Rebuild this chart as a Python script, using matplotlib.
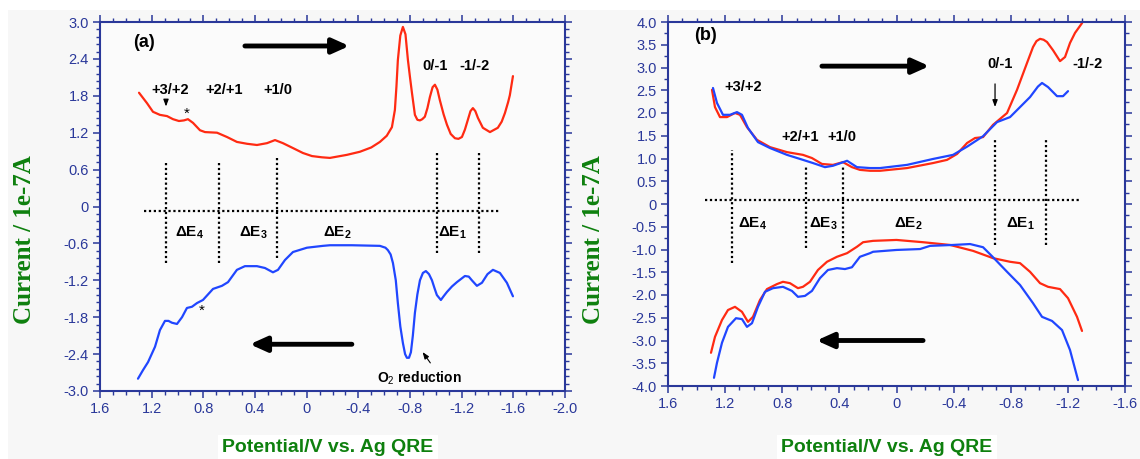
import numpy as np
import matplotlib
matplotlib.use("Agg")
import matplotlib.pyplot as plt
from matplotlib.ticker import MultipleLocator, FuncFormatter
from matplotlib.patches import Rectangle

plt.rcParams['font.family'] = ['Liberation Sans', 'DejaVu Sans']
plt.rcParams['mathtext.fontset'] = 'custom'
plt.rcParams['mathtext.bf'] = 'Liberation Sans:bold'
plt.rcParams['mathtext.rm'] = 'Liberation Sans'

# ---- panel (a): forward (red) and reverse (blue) scans
a_fwd_x = [1.298, 1.236, 1.19, 1.136, 1.081, 1.035, 0.989, 0.95, 0.919, 0.88, 0.826, 0.787, 0.694,
           0.617, 0.54, 0.462, 0.385, 0.307, 0.245, 0.184, 0.106, 0.029, -0.041, -0.118, -0.18,
           -0.312, -0.412, -0.5, -0.567, -0.62, -0.66, -0.683, -0.695, -0.706, -0.725, -0.745,
           -0.765, -0.784, -0.80, -0.815, -0.838, -0.857,
           -0.877, -0.895, -0.915, -0.935, -0.954, -0.975, -0.993, -1.012, -1.031, -1.06, -1.086,
           -1.115, -1.148, -1.175, -1.202, -1.225, -1.248, -1.268, -1.287, -1.306, -1.326,
           -1.364, -1.419, -1.48, -1.51, -1.535, -1.56, -1.573, -1.597]
a_fwd_y = [1.85, 1.68, 1.54, 1.49, 1.47, 1.42, 1.39, 1.40, 1.42, 1.36, 1.24, 1.21, 1.20,
           1.13, 1.05, 1.02, 1.00, 1.03, 1.08, 1.03, 0.95, 0.87, 0.82, 0.80, 0.79,
           0.84, 0.89, 0.96, 1.05, 1.15, 1.29, 1.57, 1.95, 2.38, 2.78, 2.92,
           2.80, 2.38, 2.10, 1.85, 1.49, 1.41,
           1.40, 1.42, 1.46, 1.60, 1.78, 1.94, 1.98, 1.90, 1.73, 1.50, 1.33,
           1.18, 1.11, 1.10, 1.13, 1.25, 1.41, 1.55, 1.60, 1.55, 1.44,
           1.28, 1.21, 1.28, 1.38, 1.52, 1.70, 1.81, 2.12]
a_rev_x = [1.306, 1.267, 1.228, 1.174, 1.136, 1.097, 1.07, 1.043, 1.004, 0.965, 0.927, 0.888, 0.849,
           0.803, 0.725, 0.656, 0.609, 0.54, 0.478, 0.385, 0.323, 0.261, 0.222, 0.168, 0.106,
           -0.002, -0.126, -0.18, -0.35, -0.567, -0.61, -0.629, -0.65, -0.668, -0.69, -0.706,
           -0.725, -0.745, -0.762, -0.776, -0.792, -0.807, -0.822,
           -0.838, -0.857, -0.877, -0.9, -0.923, -0.947, -0.97, -0.99, -1.008, -1.039, -1.06, -1.086,
           -1.125, -1.163, -1.225, -1.255, -1.279, -1.318, -1.357, -1.40, -1.442, -1.496, -1.55, -1.597]
a_rev_y = [-2.80, -2.66, -2.53, -2.28, -2.01, -1.86, -1.86, -1.89, -1.91, -1.80, -1.65, -1.63, -1.57,
           -1.52, -1.34, -1.29, -1.23, -1.03, -0.97, -0.97, -1.00, -1.07, -1.03, -0.87, -0.74,
           -0.67, -0.64, -0.63, -0.63, -0.64, -0.67, -0.71, -0.78, -0.92, -1.20, -1.57,
           -1.95, -2.22, -2.40, -2.46, -2.46, -2.37, -2.10,
           -1.73, -1.43, -1.20, -1.08, -1.05, -1.10, -1.20, -1.33, -1.44, -1.52, -1.46, -1.39,
           -1.30, -1.23, -1.13, -1.14, -1.20, -1.29, -1.24, -1.10, -1.03, -1.08, -1.24, -1.46]

# ---- panel (b): two runs, forward (upper) and reverse (lower)
b_red_fwd_x = [1.292, 1.271, 1.236, 1.187, 1.131, 1.096, 1.047, 0.977, 0.886, 0.767, 0.655, 0.592,
               0.522, 0.445, 0.375, 0.312, 0.256, 0.185, 0.115, -0.074, -0.256, -0.354, -0.424,
               -0.494, -0.55, -0.606, -0.676, -0.774, -0.844, -0.914, -0.956, -0.98, -1.005, -1.03,
               -1.054, -1.096, -1.145, -1.18, -1.215, -1.25, -1.3]
b_red_fwd_y = [2.51, 2.13, 1.91, 1.91, 2.0, 1.96, 1.69, 1.41, 1.25, 1.14, 1.08, 1.01,
               0.88, 0.86, 0.92, 0.81, 0.75, 0.73, 0.73, 0.79, 0.90, 0.97, 1.10,
               1.34, 1.45, 1.47, 1.74, 2.0, 2.51, 3.10, 3.45, 3.58, 3.63, 3.61,
               3.56, 3.38, 3.14, 3.23, 3.54, 3.76, 3.98]
b_blue_fwd_x = [1.285, 1.257, 1.215, 1.166, 1.117, 1.082, 1.04, 0.97, 0.886, 0.767, 0.655, 0.585,
                0.501, 0.445, 0.346, 0.277, 0.185, 0.115, -0.074, -0.256, -0.396, -0.494, -0.606,
                -0.704, -0.795, -0.865, -0.935, -0.99, -1.019, -1.061, -1.124, -1.166, -1.201]
b_blue_fwd_y = [2.55, 2.22, 1.96, 1.96, 2.02, 1.96, 1.67, 1.36, 1.23, 1.08, 0.97, 0.90,
                0.81, 0.84, 0.95, 0.81, 0.79, 0.79, 0.86, 0.99, 1.08, 1.26, 1.49,
                1.80, 1.91, 2.13, 2.35, 2.58, 2.66, 2.57, 2.37, 2.37, 2.48]
b_red_rev_x = [1.299, 1.271, 1.222, 1.18, 1.131, 1.082, 1.04, 1.005, 0.956, 0.907, 0.837, 0.795,
               0.746, 0.69, 0.655, 0.606, 0.55, 0.487, 0.417, 0.346, 0.277, 0.234, 0.164, 0.0,
               -0.186, -0.375, -0.536, -0.676, -0.795, -0.865, -0.935, -1.005, -1.061, -1.145,
               -1.201, -1.264, -1.299]
b_red_rev_y = [-3.27, -2.92, -2.55, -2.33, -2.26, -2.37, -2.59, -2.48, -2.11, -1.87, -1.76, -1.71,
               -1.74, -1.85, -1.82, -1.71, -1.45, -1.27, -1.16, -1.08, -0.94, -0.84, -0.81, -0.79,
               -0.84, -0.90, -1.03, -1.19, -1.27, -1.30, -1.49, -1.74, -1.82, -1.87,
               -2.07, -2.48, -2.79]
b_blue_rev_x = [1.278, 1.257, 1.222, 1.18, 1.124, 1.082, 1.047, 1.012, 0.97, 0.921, 0.865, 0.795,
                0.732, 0.69, 0.641, 0.592, 0.536, 0.48, 0.417, 0.361, 0.312, 0.256, 0.185, 0.164,
                0.0, -0.165, -0.235, -0.396, -0.515, -0.606, -0.676, -0.774, -0.865, -0.956,
                -1.019, -1.089, -1.159, -1.215, -1.271]
b_blue_rev_y = [-3.82, -3.49, -3.05, -2.70, -2.51, -2.53, -2.70, -2.62, -2.26, -1.93, -1.85, -1.82,
                -1.91, -2.04, -2.02, -1.91, -1.63, -1.45, -1.41, -1.43, -1.39, -1.16, -1.08, -1.05,
                -1.01, -0.99, -0.92, -0.90, -0.88, -0.95, -1.17, -1.49, -1.78, -2.18,
                -2.48, -2.57, -2.77, -3.21, -3.87]

# dotted boundaries: (x, y_bottom, y_top)
a_vlines = [(1.089, -0.92, 0.71), (0.679, -0.92, 0.71), (0.23, -0.84, 0.79),
            (-1.008, -0.76, 0.87), (-1.333, -0.76, 0.87)]
a_hline = (-0.07, 1.26, -1.496)
b_vlines = [(1.152, -1.30, 1.19), (0.634, -0.97, 0.81), (0.375, -0.97, 0.81),
            (-0.69, -0.90, 1.45), (-1.047, -0.90, 1.45)]
b_hline = (0.08, 1.34, -1.285)

a_couples = [("+3/+2", 1.06, 1.90), ("+2/+1", 0.64, 1.90), ("+1/0", 0.22, 1.90),
             ("0/-1", -0.993, 2.28), ("-1/-2", -1.30, 2.28)]
b_couples = [("+3/+2", 1.075, 2.57), ("+2/+1", 0.675, 1.47), ("+1/0", 0.382, 1.47),
             ("0/-1", -0.725, 3.07), ("-1/-2", -1.334, 3.07)]
a_delta = [("4", 0.903, -0.42), ("3", 0.416, -0.42), ("2", -0.24, -0.42), ("1", -1.13, -0.42)]
b_delta = [("4", 1.005, -0.44), ("3", 0.515, -0.44), ("2", -0.08, -0.44), ("1", -0.865, -0.44)]

RED = '#ff2a12'
BLUE = '#2046ff'
NAVY = '#2a389a'
GREEN = '#0e800e'

fig = plt.figure(figsize=(11.4, 4.59), dpi=100)
fig.patches.append(Rectangle((8 / 1140, 0), 1 - 8 / 1140, 1 - 10 / 459, transform=fig.transFigure,
                             facecolor='#f7f7f7', edgecolor='none', zorder=-5))
axa = fig.add_axes([100 / 1140, 1 - 391 / 459, 465 / 1140, 369 / 459])
axb = fig.add_axes([668 / 1140, 1 - 386 / 459, 457 / 1140, 364 / 459])


def fmt(v, pos):
    if abs(v) < 1e-9:
        return "0"
    return f"{v:.1f}"


def style(ax, xlim, ylim, ymaj, ymin):
    ax.set_facecolor('#fbfbfb')
    ax.set_xlim(*xlim)
    ax.set_ylim(*ylim)
    ax.xaxis.set_major_locator(MultipleLocator(0.4))
    ax.xaxis.set_minor_locator(MultipleLocator(0.1))
    ax.yaxis.set_major_locator(MultipleLocator(ymaj))
    ax.yaxis.set_minor_locator(MultipleLocator(ymin))
    ax.xaxis.set_major_formatter(FuncFormatter(fmt))
    ax.yaxis.set_major_formatter(FuncFormatter(fmt))
    for s in ax.spines.values():
        s.set_color(NAVY)
        s.set_linewidth(1.5)
    ax.tick_params(which='both', direction='out', top=True, right=True, color=NAVY,
                   labelcolor=NAVY, labelsize=10.5)
    ax.tick_params(which='major', length=5, width=1.1, pad=3)
    ax.tick_params(which='minor', length=3, width=1.0)


def dividers(ax, vl, hl):
    for x, y0, y1 in vl:
        ax.plot([x, x], [y0, y1], color='k', ls=(0, (1, 1.2)), lw=1.6)
    y, x0, x1 = hl
    ax.plot([x0, x1], [y, y], color='k', ls=(0, (1, 1.2)), lw=1.6)


def big_arrow(ax, tail, head):
    ax.annotate('', xy=head, xytext=tail,
                arrowprops=dict(arrowstyle='-|>,head_length=1.0,head_width=0.45',
                                lw=3.5, color='k', shrinkA=0, shrinkB=0))


def curve(ax, x, y, c):
    ax.plot(x, y, color=c, lw=1.6, solid_joinstyle='round', solid_capstyle='round')


# ---- (a)
style(axa, (1.6, -2.0), (-3.0, 3.0), 0.6, 0.12)
dividers(axa, a_vlines, a_hline)
curve(axa, a_fwd_x, a_fwd_y, RED)
curve(axa, a_rev_x, a_rev_y, BLUE)
axa.text(1.34, 2.67, "(a)", fontsize=13, fontweight='bold', ha='left', va='center')
for t, x, y in a_couples:
    axa.text(x, y, t, fontsize=10.5, fontweight='bold', ha='center', va='center')
for n, x, y in a_delta:
    axa.text(x, y, r'$\mathbf{\Delta E_%s}$' % n, fontsize=11, ha='center', va='center')
axa.annotate('', xy=(1.089, 1.58), xytext=(1.089, 1.77),
             arrowprops=dict(arrowstyle='-|>,head_length=0.4,head_width=0.15', lw=0.9, color='k'))
axa.text(0.927, 1.50, "*", fontsize=11, ha='center', va='center')
axa.text(0.81, -1.70, "*", fontsize=11, ha='center', va='center')
big_arrow(axa, (0.478, 2.61), (-0.33, 2.61))
big_arrow(axa, (-0.35, -2.24), (0.44, -2.24))
axa.text(-0.877, -2.80, r'O$_2$ reduction', fontsize=10, fontweight='bold', ha='center', va='center')
axa.annotate('', xy=(-0.885, -2.33), xytext=(-0.97, -2.58),
             arrowprops=dict(arrowstyle='-|>,head_length=0.4,head_width=0.15', lw=0.8, color='k'))

# ---- (b)
style(axb, (1.6, -1.6), (-4.0, 4.0), 0.5, 0.25)
dividers(axb, b_vlines, b_hline)
curve(axb, b_red_fwd_x, b_red_fwd_y, RED)
curve(axb, b_blue_fwd_x, b_blue_fwd_y, BLUE)
curve(axb, b_red_rev_x, b_red_rev_y, RED)
curve(axb, b_blue_rev_x, b_blue_rev_y, BLUE)
axb.text(1.42, 3.7, "(b)", fontsize=13, fontweight='bold', ha='left', va='center')
for t, x, y in b_couples:
    axb.text(x, y, t, fontsize=10.5, fontweight='bold', ha='center', va='center')
for n, x, y in b_delta:
    axb.text(x, y, r'$\mathbf{\Delta E_%s}$' % n, fontsize=11, ha='center', va='center')
axb.annotate('', xy=(-0.69, 2.07), xytext=(-0.69, 2.70),
             arrowprops=dict(arrowstyle='-|>,head_length=0.4,head_width=0.15', lw=0.9, color='k'))
big_arrow(axb, (0.522, 3.03), (-0.23, 3.03))
big_arrow(axb, (-0.186, -3.0), (0.56, -3.0))

# axis titles
for xc, yl in ((328, 25), (887, 593)):
    fig.text(xc / 1140, 1 - 448 / 459, "Potential/V vs. Ag QRE", color=GREEN, fontsize=14,
             fontweight='bold', ha='center', va='center',
             bbox=dict(facecolor='white', edgecolor='none', pad=3))
    fig.text(yl / 1140, 1 - 240 / 459, "Current / 1e-7A", color=GREEN, fontsize=18,
             fontweight='bold', family=['Liberation Serif', 'DejaVu Serif'],
             rotation=90, ha='center', va='center')

fig.savefig("out.png", dpi=100, facecolor='white')
